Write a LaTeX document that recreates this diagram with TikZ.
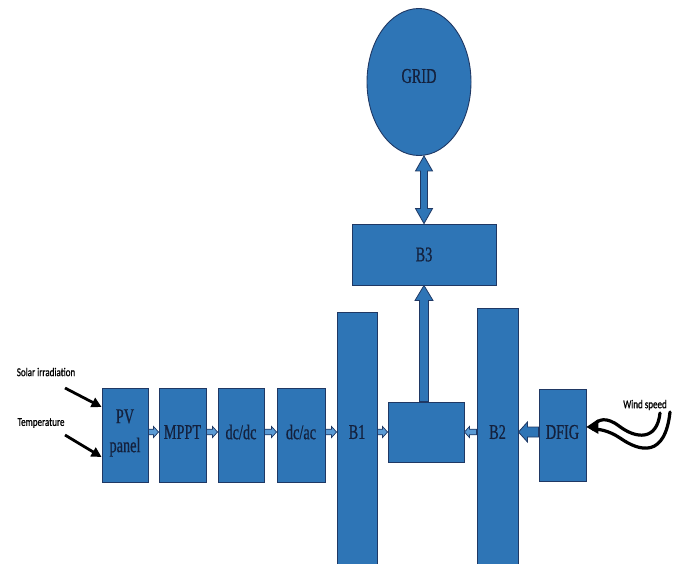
\documentclass[tikz,border=0pt]{standalone}
\usepackage{fontspec}
\setmainfont{Liberation Serif}
\newfontfamily\labelfont[FakeStretch=0.68,FakeBold=0.6]{Liberation Serif}
\newfontfamily\notefont[FakeStretch=0.75,FakeBold=0.8]{Carlito}
\usetikzlibrary{calc,shapes.geometric,arrows.meta}

\definecolor{boxblue}{HTML}{2E75B6}
\definecolor{edgeblue}{HTML}{1F3864}
\definecolor{labelnavy}{HTML}{14213D}
\definecolor{arrowfill}{HTML}{5B9BD5}

\tikzset{
  block/.style={draw=edgeblue, line width=0.9pt, fill=boxblue, inner sep=0pt},
  blocktext/.style={text=labelnavy, font=\labelfont\fontsize{21}{25}\selectfont,
    inner sep=0pt, align=center},
  note/.style={font=\notefont\fontsize{12}{14}\selectfont, text=black, inner sep=0pt},
  flowarrow/.style={draw=edgeblue, line width=0.7pt, fill=arrowfill},
  bigarrow/.style={draw=edgeblue, line width=0.8pt, fill=boxblue},
  inputarrow/.style={line width=2.8pt, -{Triangle[length=10pt,width=10pt]}},
  windline/.style={line width=3.2pt, line cap=round},
}

% block arrow: #1 style, #2 from, #3 to, #4 shaft half width, #5 head half width, #6 head length
\newcommand\blockarrow[6]{%
  \coordinate (blkbase) at ($(#3)!#6!(#2)$);
  \filldraw[#1] ($(#2)!#4!90:(#3)$)
    -- ($(blkbase)!#4!-90:(#2)$)
    -- ($(blkbase)!#5!-90:(#2)$)
    -- (#3)
    -- ($(blkbase)!#5!90:(#2)$)
    -- ($(blkbase)!#4!90:(#2)$)
    -- ($(#2)!#4!-90:(#3)$) -- cycle;}

% two-headed block arrow, same arguments
\newcommand\twowayarrow[6]{%
  \coordinate (blkbaseA) at ($(#2)!#6!(#3)$);
  \coordinate (blkbaseB) at ($(#3)!#6!(#2)$);
  \filldraw[#1] (#2)
    -- ($(blkbaseA)!#5!90:(#3)$)
    -- ($(blkbaseA)!#4!90:(#3)$)
    -- ($(blkbaseB)!#4!-90:(#2)$)
    -- ($(blkbaseB)!#5!-90:(#2)$)
    -- (#3)
    -- ($(blkbaseB)!#5!90:(#2)$)
    -- ($(blkbaseB)!#4!90:(#2)$)
    -- ($(blkbaseA)!#4!-90:(#3)$)
    -- ($(blkbaseA)!#5!-90:(#3)$) -- cycle;}

\begin{document}
\begin{tikzpicture}[x=1pt, y=-1pt]
\useasboundingbox (0,0) rectangle (676,563);
\clip (0,0) rectangle (676,563);

% grid and upper bus
\node[block, ellipse, minimum width=104pt, minimum height=147pt] (grid) at (419,82) {};
\node[blocktext] (gridtext) at ([yshift=6pt]grid.center) {GRID};
\node[block, minimum width=144pt, minimum height=61pt] (b3) at (424,254.5) {};
\node[blocktext] (b3text) at (b3.center) {B3};

% PV chain
\node[block, minimum width=46pt, minimum height=94pt] (pv) at (125,435) {};
\node[blocktext] (pvtext) at ([yshift=2pt]pv.center) {PV\\[4pt]panel};
\node[block, minimum width=47pt, minimum height=94pt] (mppt) at (182.5,435) {};
\node[blocktext] (mppttext) at ([yshift=3pt]mppt.center) {MPPT};
\node[block, minimum width=46pt, minimum height=94pt] (dcdc) at (241,435) {};
\node[blocktext] (dcdctext) at ([yshift=3pt]dcdc.center) {dc/dc};
\node[block, minimum width=48pt, minimum height=94pt] (dcac) at (301,435) {};
\node[blocktext] (dcactext) at ([yshift=3pt]dcac.center) {dc/ac};

% buses and converter
\node[block, minimum width=40pt, minimum height=268pt] (b1) at (357,446) {};
\node[block, minimum width=76pt, minimum height=60pt] (mid) at (426,432) {};
\node[block, minimum width=41pt, minimum height=272pt] (b2) at (497.5,444) {};
\node[blocktext] (b1text) at (b1.center |- mid.center) {B1};
\node[blocktext] (b2text) at (b2.center |- mid.center) {B2};

% wind generator
\node[block, minimum width=47pt, minimum height=92pt] (dfig) at (562.5,435) {};
\node[blocktext] (dfigtext) at ([yshift=3pt]dfig.center) {DFIG};

% external inputs
\node[note] (solar) at (46,372) {Solar irradiation};
\node[note] (temp) at (41,423) {Temperature};
\node[note] (wind) at (645,405) {Wind speed};

% power flow arrows along the PV chain
\blockarrow{flowarrow}{[yshift=3pt]pv.east}{[yshift=3pt]mppt.west}{2.8pt}{5.5pt}{5pt}
\blockarrow{flowarrow}{[yshift=3pt]mppt.east}{[yshift=3pt]dcdc.west}{2.8pt}{5.5pt}{5pt}
\blockarrow{flowarrow}{[yshift=3pt]dcdc.east}{[yshift=3pt]dcac.west}{2.8pt}{5.5pt}{5pt}
\coordinate (b1in) at (b1.west |- mppttext.center);
\blockarrow{flowarrow}{[yshift=3pt]dcac.east}{b1in}{2.8pt}{5.5pt}{5pt}

% into the converter from both buses
\coordinate (b1out) at (b1.east |- mid.center);
\coordinate (b2out) at (b2.west |- mid.center);
\blockarrow{flowarrow}{b1out}{mid.west}{2.8pt}{5.5pt}{5pt}
\blockarrow{flowarrow}{b2out}{mid.east}{2.8pt}{5.5pt}{5pt}
\coordinate (b2in) at (b2.east |- mid.center);
\blockarrow{bigarrow}{[yshift=3pt]dfig.west}{b2in}{5pt}{10pt}{9pt}

% up to B3 and to the grid
\coordinate (midup) at (b3.south |- mid.north);
\blockarrow{bigarrow}{midup}{b3.south}{4.5pt}{9pt}{15pt}
\coordinate (gridfoot) at (b3.north |- grid.south);
\twowayarrow{bigarrow}{gridfoot}{b3.north}{3.5pt}{8.5pt}{15pt}

% irradiation and temperature inputs
\coordinate (solarfrom) at (65,388);
\coordinate (tempfrom) at (65,435);
\draw[inputarrow] (solarfrom) -- ([yshift=28pt]pv.west);
\draw[inputarrow] (tempfrom) -- ([yshift=-22pt]pv.west);

% wind input
\coordinate (windA) at (660,413);
\coordinate (windB) at (670,412);
\coordinate (windtip) at ([yshift=8pt]dfig.east);
\draw[windline] (windA) .. controls (657,441) and (636,439) .. (619,426)
  .. controls (607,417) and (598,418) .. ([xshift=6pt]windtip);
\draw[windline] (windB) .. controls (665,458) and (640,452) .. (620,438)
  .. controls (608,430) and (598,429) .. ([xshift=6pt,yshift=-2pt]windtip);
\fill ([xshift=12pt,yshift=8pt]windtip) -- (windtip) -- ([xshift=12pt,yshift=-7pt]windtip) -- cycle;
\end{tikzpicture}
\end{document}
